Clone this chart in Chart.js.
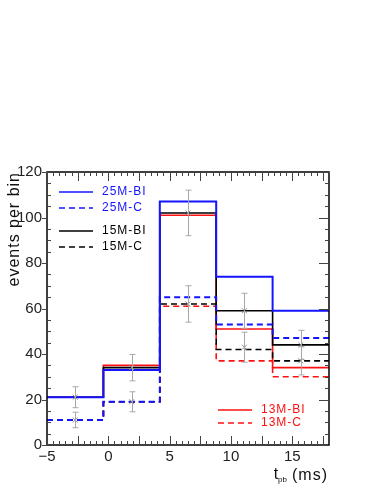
<!DOCTYPE html>
<html>
<head>
<meta charset="utf-8">
<script src="https://cdn.jsdelivr.net/npm/chart.js@4.4.1/dist/chart.umd.min.js"></script>
<style>
  html, body { margin: 0; padding: 0; background: #fff; }
  #wrap { width: 374px; height: 484px; position: relative; }
</style>
</head>
<body>
<div id="wrap"><canvas id="histChart"></canvas></div>
<script>
"use strict";

// bin edges in t_pb (ms)
const binEdges = [-5, -0.4, 4.2, 8.8, 13.4, 18];

// events per bin, one value per bin
const m25BI = [21, 33, 107, 74, 59];
const m25C = [11, 19, 65, 53, 47];
const m15BI = [21, 34, 102, 59, 44];
const m15C = [11, 19, 62, 42, 37];
const m13BI = [21, 35, 101, 51, 34];
const m13C = [11, 19, 61, 37, 30];

// data points with errors (gray crosses)
const obsHigh = [21, 34, 102, 59, 44];
const obsHighErr = [4.6, 5.8, 10, 7.7, 6.4];
const obsLow = [11, 19, 62, 43, 37];
const obsLowErr = [3.4, 4.4, 8, 6.6, 6.2];

const yTicks = [0, 20, 40, 60, 80, 100, 120];
const xTicks = [-5, 0, 5, 10, 15];

const FONT = "'Liberation Sans', Arial, Helvetica, sans-serif";

function histPoints(vals) {
  // point i sits on the left edge of bin i, last one closes the final bin
  const pts = vals.map((v, i) => ({ x: binEdges[i], y: v }));
  pts.push({ x: binEdges[binEdges.length - 1], y: vals[vals.length - 1] });
  return pts;
}

function binCenters() {
  return binEdges.slice(0, -1).map((e, i) => (e + binEdges[i + 1]) / 2);
}

function histSet(label, vals, color, dashed, width) {
  return {
    type: "line",
    label: label,
    data: histPoints(vals),
    stepped: "before",
    borderColor: color,
    borderWidth: width || 1.6,
    borderDash: dashed ? [6, 4] : [],
    pointRadius: 0,
    fill: false,
  };
}

const centers = binCenters();

// error bars drawn from the data arrays
const errorBars = {
  id: "errorBars",
  afterDatasetsDraw(chart) {
    const { ctx, scales } = chart;
    const xs = scales.x, ys = scales.y;
    ctx.save();
    ctx.strokeStyle = "#a8a8a8";
    ctx.lineWidth = 1;
    const draw = (vals, errs) => {
      vals.forEach((v, i) => {
        const px = Math.round(xs.getPixelForValue(centers[i])) + 0.5;
        const top = ys.getPixelForValue(v + errs[i]);
        const bot = ys.getPixelForValue(v - errs[i]);
        ctx.beginPath();
        ctx.moveTo(px, top); ctx.lineTo(px, bot);
        ctx.moveTo(px - 3, top); ctx.lineTo(px + 3, top);
        ctx.moveTo(px - 3, bot); ctx.lineTo(px + 3, bot);
        ctx.stroke();
      });
    };
    draw(obsHigh, obsHighErr);
    draw(obsLow, obsLowErr);
    ctx.restore();
  },
};

// frame, inward ticks, titles and text legend
const frameDecor = {
  id: "frameDecor",
  afterDraw(chart) {
    const { ctx, chartArea: a, scales } = chart;
    const xs = scales.x, ys = scales.y;
    ctx.save();
    ctx.strokeStyle = "#000";
    ctx.lineWidth = 1.5;
    ctx.strokeRect(a.left, a.top, a.right - a.left, a.bottom - a.top);

    ctx.lineWidth = 1;
    ctx.strokeStyle = "#444";
    ctx.beginPath();
    for (let v = -5; v <= 18.001; v += 0.5) {
      const px = Math.round(xs.getPixelForValue(v)) + 0.5;
      const major = Math.abs((v + 5) / 2.5 - Math.round((v + 5) / 2.5)) < 1e-6;
      const len = major ? 9 : 4;
      ctx.moveTo(px, a.bottom); ctx.lineTo(px, a.bottom - len);
      ctx.moveTo(px, a.top); ctx.lineTo(px, a.top + len);
    }
    for (let v = 0; v <= 120; v += 5) {
      const py = Math.round(ys.getPixelForValue(v)) + 0.5;
      const major = v % 20 === 0;
      if (major) {
        ctx.moveTo(a.left - 5, py); ctx.lineTo(a.left, py);
        ctx.moveTo(a.right, py); ctx.lineTo(a.right - 10, py);
      } else {
        ctx.moveTo(a.left, py); ctx.lineTo(a.left + 4, py);
        ctx.moveTo(a.right, py); ctx.lineTo(a.right - 4, py);
      }
    }
    ctx.stroke();

    // axis titles
    ctx.fillStyle = "#111";
    ctx.letterSpacing = "1px";
    ctx.font = "16px " + FONT;
    ctx.textBaseline = "alphabetic";
    ctx.textAlign = "right";
    const msW = ctx.measureText("(ms)").width;
    ctx.fillText("(ms)", a.right - 1, 480);
    ctx.font = "8px " + FONT;
    ctx.letterSpacing = "0px";
    const pbW = ctx.measureText("pb").width;
    ctx.fillText("pb", a.right - msW - 6, 482);
    ctx.font = "16px " + FONT;
    ctx.fillText("t", a.right - msW - 6 - pbW, 479);

    ctx.save();
    ctx.translate(19, a.top);
    ctx.rotate(-Math.PI / 2);
    ctx.letterSpacing = "1px";
    ctx.textAlign = "right";
    ctx.fillText("events per bin", 0, 0);
    ctx.restore();

    // text legend
    ctx.font = "12px " + FONT;
    ctx.letterSpacing = "1px";
    ctx.textAlign = "left";
    ctx.textBaseline = "middle";
    ctx.lineWidth = 1.6;
    const entries = [
      { t: "25M-BI", c: "#1414ff", d: false, x: 12, y: 20 },
      { t: "25M-C", c: "#1414ff", d: true, x: 12, y: 36 },
      { t: "15M-BI", c: "#000", d: false, x: 12, y: 59 },
      { t: "15M-C", c: "#000", d: true, x: 12, y: 75 },
      { t: "13M-BI", c: "#ff1010", d: false, x: 171, y: 238 },
      { t: "13M-C", c: "#ff1010", d: true, x: 171, y: 251 },
    ];
    entries.forEach((e) => {
      ctx.strokeStyle = e.c;
      ctx.fillStyle = e.c;
      ctx.setLineDash(e.d ? [6, 4] : []);
      ctx.beginPath();
      ctx.moveTo(a.left + e.x, a.top + e.y);
      ctx.lineTo(a.left + e.x + 34, a.top + e.y);
      ctx.stroke();
      ctx.fillText(e.t, a.left + e.x + 43, a.top + e.y);
    });
    ctx.restore();
  },
};

const ctx = document.getElementById("histChart").getContext("2d");

// first dataset ends up on top, so blue comes before black and red
new Chart(ctx, {
  data: {
    datasets: [
      {
        type: "scatter",
        label: "data",
        data: centers.map((c, i) => ({ x: c, y: obsHigh[i] }))
          .concat(centers.map((c, i) => ({ x: c, y: obsLow[i] }))),
        pointStyle: "crossRot",
        pointRadius: 3.5,
        borderColor: "#8a8a8a",
        borderWidth: 1,
      },
      histSet("25M-BI", m25BI, "#1414ff", false, 2),
      histSet("25M-C", m25C, "#1414ff", true, 2),
      histSet("15M-BI", m15BI, "#000", false),
      histSet("15M-C", m15C, "#000", true),
      histSet("13M-BI", m13BI, "#ff1010", false),
      histSet("13M-C", m13C, "#ff1010", true),
    ],
  },
  options: {
    responsive: true,
    maintainAspectRatio: false,
    animation: false,
    layout: { padding: { top: 172, right: 45, left: 0, bottom: 0 } },
    plugins: {
      legend: { display: false },
      tooltip: { enabled: false },
    },
    scales: {
      x: {
        type: "linear",
        min: -5,
        max: 18,
        afterFit: (s) => { s.height = 39; },
        afterBuildTicks: (s) => { s.ticks = xTicks.map((v) => ({ value: v })); },
        grid: { display: false, drawTicks: false },
        border: { display: false },
        ticks: {
          padding: 3,
          color: "#222",
          font: { family: FONT, size: 15 },
          callback: (v) => String(v).replace("-", "\u2212"),
        },
      },
      y: {
        type: "linear",
        min: 0,
        max: 120,
        afterFit: (s) => { s.width = 47; },
        afterBuildTicks: (s) => { s.ticks = yTicks.map((v) => ({ value: v })); },
        grid: { display: false, drawTicks: false },
        border: { display: false },
        ticks: {
          padding: 5,
          color: "#222",
          font: { family: FONT, size: 15 },
        },
      },
    },
  },
  plugins: [errorBars, frameDecor],
});
</script>
</body>
</html>
